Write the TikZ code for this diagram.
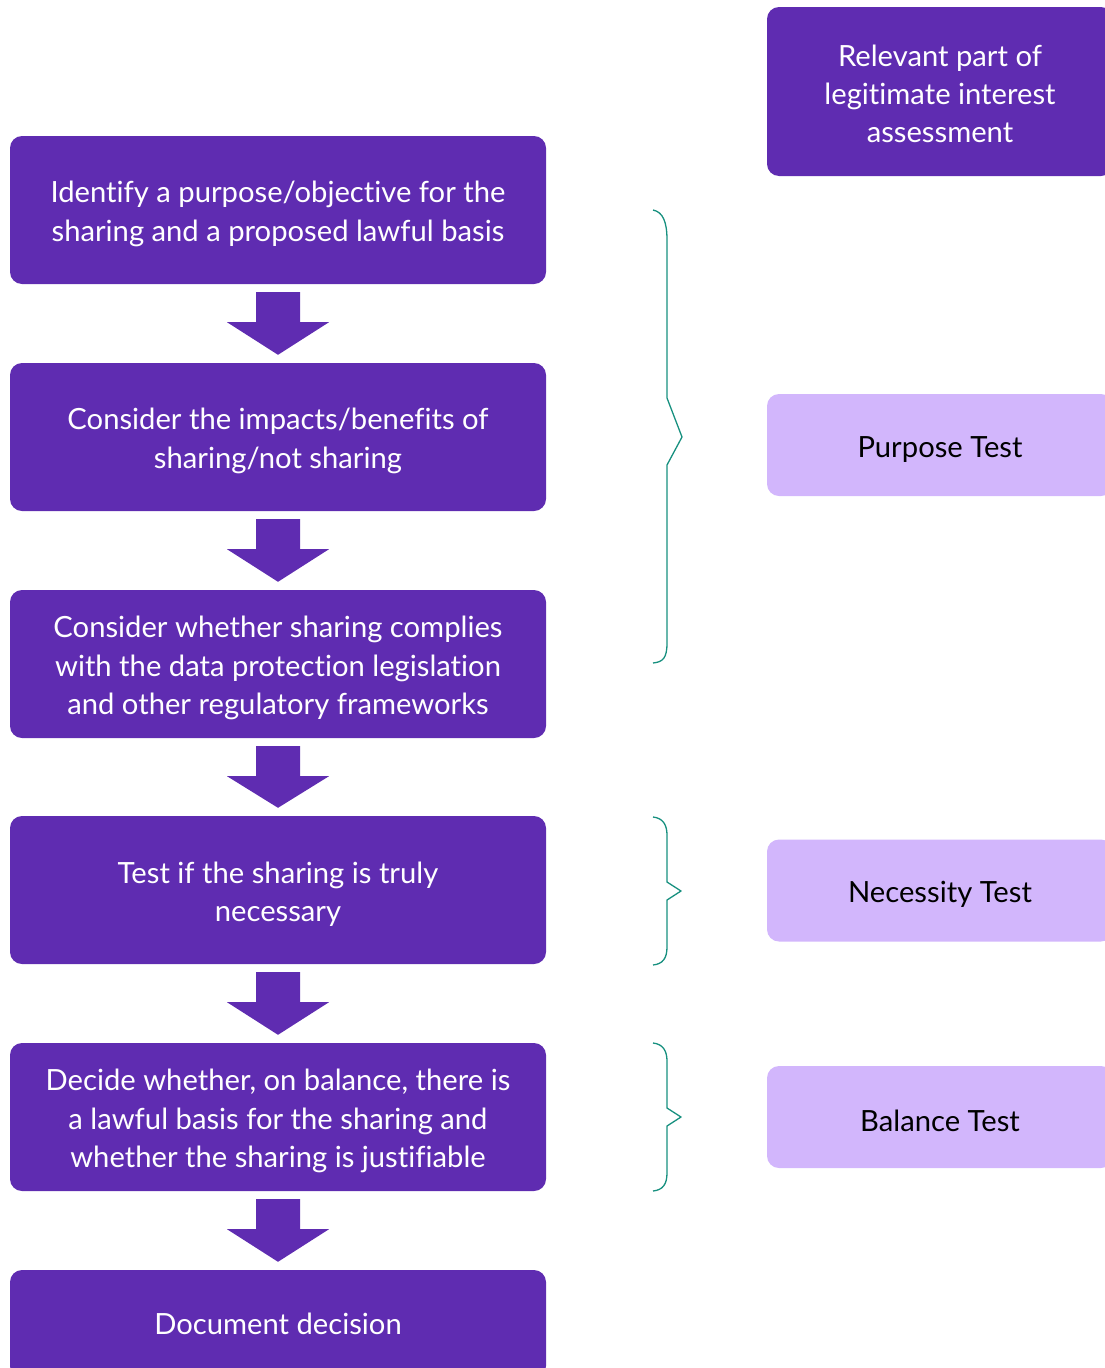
\documentclass[tikz,border=0pt]{standalone}
\usepackage{fontspec}
\setmainfont[Ligatures={NoCommon,NoRare}]{Lato}
\usetikzlibrary{calc}
\definecolor{dpurple}{HTML}{5F2CB1}
\definecolor{lpurple}{HTML}{D2B6FC}
\definecolor{bracecol}{HTML}{17907F}
\begin{document}
\begin{tikzpicture}[x=1pt,y=-1pt,
  boxfont/.style={font=\fontsize{29.2}{38.3}\selectfont},
  stepbox/.style={fill=dpurple, rounded corners=12pt, minimum width=536pt, minimum height=148pt, inner sep=0pt},
  headbox/.style={fill=dpurple, rounded corners=12pt, minimum width=346pt, minimum height=169pt, inner sep=0pt},
  testbox/.style={fill=lpurple, rounded corners=12pt, minimum width=346pt, minimum height=102pt, inner sep=0pt},
  wtext/.style={text=white, align=center, boxfont, inner sep=0pt},
  btext/.style={text=black, align=center, boxfont, inner sep=0pt},
  bracestyle/.style={draw=bracecol, line width=1.3pt, line join=round}]
\useasboundingbox (0,0) rectangle (1105,1368);
% step boxes
\node[stepbox] (s1) at (278,210) {};
\node[stepbox] (s2) at (278,437) {};
\node[stepbox] (s3) at (278,664) {};
\node[stepbox] (s4) at (278,890) {};
\node[stepbox] (s5) at (278,1117) {};
\node[stepbox, minimum height=108pt] (s6) at (278,1324) {};
\node[wtext] (s1t) at ($(s1)+(0,4)$) {Identify a purpose/objective for the\\sharing and a proposed lawful basis};
\node[wtext] (s2t) at ($(s2)+(0,4)$) {Consider the impacts/benefits of\\sharing/not sharing};
\node[wtext] (s3t) at ($(s3)+(0,4)$) {Consider whether sharing complies\\with the data protection legislation\\and other regulatory frameworks};
\node[wtext] (s4t) at ($(s4)+(0,4)$) {Test if the sharing is truly\\necessary};
\node[wtext] (s5t) at ($(s5)+(0,4)$) {Decide whether, on balance, there is\\a lawful basis for the sharing and\\whether the sharing is justifiable};
\node[wtext] (s6t) at (s6) {Document decision};
% right column
\node[headbox] (h) at (940,91.5) {};
\node[wtext] (ht) at ($(h)+(0,2.5)$) {Relevant part of\\legitimate interest\\assessment};
\node[testbox] (pt) at (940,445) {};
\node[btext] (ptt) at ($(pt)+(0,5)$) {Purpose Test};
\node[testbox] (nt) at (940,890.5) {};
\node[btext] (ntt) at ($(nt)+(0,4)$) {Necessity Test};
\node[testbox] (bt) at (940,1117) {};
\node[btext] (btt) at ($(bt)+(0,4)$) {Balance Test};
% block arrows
\foreach \a/\b in {s1/s2,s2/s3,s3/s4,s4/s5,s5/s6}
  \fill[dpurple] ($(\a.south)+(-22,8)$) -- ($(\a.south)+(22,8)$) -- ($(\a.south)+(22,38)$) -- ($(\a.south)+(51,38)$) -- ($(\b.north)+(0,-8)$) -- ($(\a.south)+(-51,38)$) -- ($(\a.south)+(-22,38)$) -- cycle;
% braces
\path[bracestyle] (653,210) .. controls (663,212) and (667,222) .. (667,240) -- (667,398) -- (682,437) -- (667,465) -- (667,643) .. controls (667,658) and (663,662) .. (653,663);
\path[bracestyle] (653,817) .. controls (663,818) and (667,825) .. (667,835) -- (667,882) -- (681,891) -- (667,900) -- (667,947) .. controls (667,958) and (663,964) .. (653,965);
\path[bracestyle] (653,1043) .. controls (663,1044) and (667,1051) .. (667,1061) -- (667,1108) -- (681,1117) -- (667,1126) -- (667,1173) .. controls (667,1184) and (663,1190) .. (653,1191);
\end{tikzpicture}
\end{document}
